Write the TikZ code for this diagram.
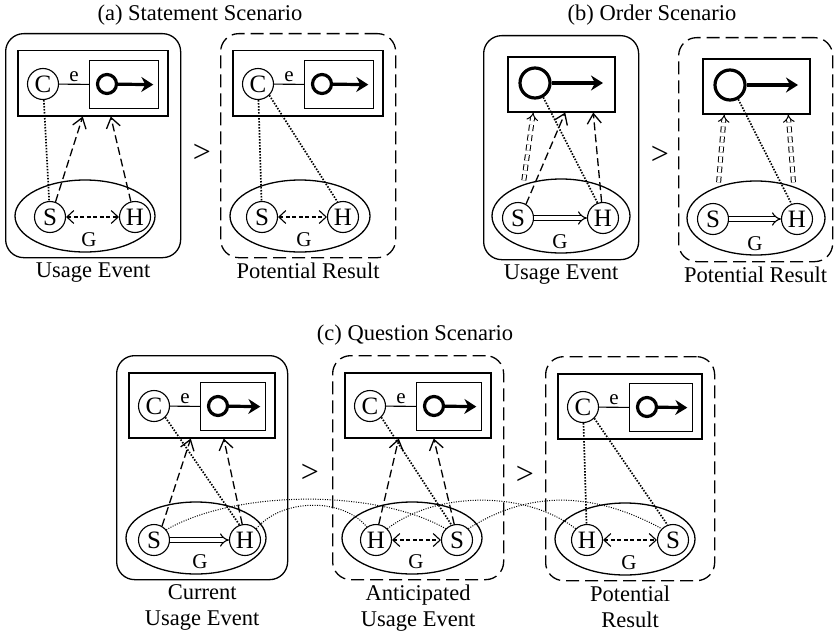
\documentclass[tikz,border=0pt]{standalone}
\usepackage{fontspec}
\setmainfont{Liberation Serif}
\usetikzlibrary{arrows.meta,positioning,shapes.geometric}
\tikzset{
  scene/.style={draw, line width=1.3pt, rounded corners=18pt, inner sep=0pt},
  anticip/.style={scene, dash pattern=on 13pt off 6pt},
  topbox/.style={draw, line width=1.5pt, inner sep=0pt},
  sitbox/.style={draw, line width=1.3pt, inner sep=0pt},
  entity/.style={draw, circle, line width=1.1pt, minimum size=31pt, inner sep=0pt,
                 font=\fontsize{25}{27}\selectfont},
  agent/.style={draw, circle, line width=3.2pt, minimum size=19pt, inner sep=0pt},
  heading/.style={line width=3.2pt, -{Stealth[length=12pt,width=15pt,inset=4pt]}},
  group/.style={draw, ellipse, line width=1.3pt, minimum width=140pt, minimum height=72pt, inner sep=0pt},
  lbl/.style={font=\fontsize{21}{23}\selectfont, inner sep=1pt},
  captxt/.style={font=\fontsize{22.5}{26}\selectfont, align=center, inner sep=1pt},
  gtsign/.style={font=\fontsize{32}{34}\selectfont, inner sep=0pt},
  expect/.style={line width=1.3pt, dash pattern=on 8pt off 4pt, -{Straight Barb[length=10pt,width=14pt]}},
  expecttwo/.style={double, double distance=3pt, line width=1pt, dash pattern=on 6pt off 4pt,
                    -{Implies[length=8pt]}},
  grounding/.style={line width=1.7pt, dash pattern=on 1.5pt off 1.5pt},
  link/.style={line width=1pt, dash pattern=on 1pt off 1.4pt},
  mutual/.style={line width=1.1pt, dash pattern=on 4pt off 2.5pt,
                 {Straight Barb[length=7pt,width=13pt]}-{Straight Barb[length=7pt,width=13pt]}},
  directive/.style={double, double distance=3.5pt, line width=1.1pt, -{Implies[length=8pt]}},
}
% panel with C, e and situation box
\newcommand{\cpanel}[4]{%
  \node[#2, minimum width=#3, minimum height=224, anchor=north west] (#1) at (0,0) {};
  \node[topbox, minimum width=#3-25, minimum height=65, anchor=north west] (#1top) at (12,17) {};
  \node[sitbox, minimum width=#3-106, minimum height=48, anchor=north west] (#1sit) at (84,27) {};
  \node[entity] (#1C) at (38,51) {C};
  \node[agent] (#1ag) at (102,51) {};
  \coordinate (#1tip) at ([xshift=-6pt]#1sit.east);
  \draw[heading] (#1ag) -- (#1tip);
  \draw[line width=1.1pt] (#1C) -- node[above=1pt, lbl] {e} (#1sit);
  \node[group] (#1G) at (80,183) {};
  \node[lbl] (#1g) at (84,207) {G};
  \node[captxt, below=3pt of #1] (#1cap) {#4};
}
% panel with the bare situation
\newcommand{\opanel}[4]{%
  \node[#2, minimum width=#3, minimum height=224, anchor=north west] (#1) at (0,0) {};
  \node[topbox, minimum width=107, minimum height=55, anchor=north west] (#1top) at (24,21) {};
  \node[agent, minimum size=30] (#1ag) at (52,48) {};
  \coordinate (#1tip) at (120,48);
  \draw[heading] (#1ag) -- (#1tip);
  \node[group, minimum width=138, minimum height=74] (#1G) at (78,181) {};
  \node[lbl] (#1g) at (77,207) {G};
  \node[captxt, below=3pt of #1] (#1cap) {#4};
}

\begin{document}
\begin{tikzpicture}[x=1pt,y=-1pt]
\useasboundingbox (0,0) rectangle (834,634);

% (a) statement
\node[captxt] (ttla) at (200,15) {(a) Statement Scenario};
\begin{scope}[shift={(5,33)}]
  \cpanel{a1}{scene}{175}{Usage Event}
  \node[entity] (a1S) at (45,184) {S};
  \node[entity] (a1H) at (130,184) {H};
\end{scope}
\node[gtsign] (gta) at (202,153) {>};
\begin{scope}[shift={(220,33)}]
  \cpanel{a2}{anticip}{175}{Potential Result}
  \node[entity] (a2S) at (42,184) {S};
  \node[entity] (a2H) at (123,184) {H};
\end{scope}

% (b) order
\node[captxt] (ttlb) at (652,15) {(b) Order Scenario};
\begin{scope}[shift={(483,35)}]
  \opanel{b1}{scene}{155}{Usage Event}
  \node[entity] (b1S) at (35,183) {S};
  \node[entity] (b1H) at (120,183) {H};
\end{scope}
\node[gtsign] (gtb) at (660,155) {>};
\begin{scope}[shift={(678,37)}]
  \opanel{b2}{anticip}{154}{Potential Result}
  \node[entity] (b2S) at (35,182) {S};
  \node[entity] (b2H) at (119,182) {H};
\end{scope}

% (c) question
\node[captxt] (ttlc) at (415,335) {(c) Question Scenario};
\begin{scope}[shift={(116,355)}]
  \cpanel{c1}{scene}{171}{Current\\Usage Event}
  \node[entity] (c1S) at (38,185) {S};
  \node[entity] (c1H) at (129,185) {H};
\end{scope}
\node[gtsign] (gtc) at (310,473) {>};
\begin{scope}[shift={(332,355)}]
  \cpanel{c2}{anticip}{171}{Anticipated\\Usage Event}
  \node[entity] (c2H) at (44,185) {H};
  \node[entity] (c2S) at (125,185) {S};
\end{scope}
\node[gtsign] (gtd) at (525,475) {>};
\begin{scope}[shift={(545,356)}]
  \cpanel{c3}{anticip}{169}{Potential\\Result}
  \node[entity] (c3H) at (42,184) {H};
  \node[entity] (c3S) at (128,184) {S};
\end{scope}

% connectors (a)
\draw[mutual] (a1S) -- (a1H);
\draw[grounding] (a1C) -- (a1S);
\draw[expect] (a1S.70) -- ([xshift=-10pt]a1top.south);
\draw[expect] (a1H.105) -- ([xshift=18pt]a1top.south);
\draw[mutual] (a2S) -- (a2H);
\draw[grounding] (a2C) -- (a2S);
\draw[grounding] (a2C.-45) -- (a2H.110);

% connectors (b)
\draw[directive] (b1S) -- (b1H);
\draw[expecttwo, shorten <=4pt] (b1G.140) -- ([xshift=-28pt]b1top.south);
\draw[expect] (b1S.60) -- ([xshift=4pt]b1top.south);
\draw[expect] (b1H.95) -- ([xshift=32pt]b1top.south);
\draw[grounding] (b1ag.-60) -- (b1H.110);
\draw[directive] (b2S) -- (b2H);
\draw[expecttwo, shorten <=4pt] (b2G.140) -- ([xshift=-32pt]b2top.south);
\draw[expecttwo, shorten <=4pt] (b2G.40) -- ([xshift=32pt]b2top.south);
\draw[grounding] (b2ag.-60) -- (b2H.110);

% connectors (c)
\draw[directive] (c1S) -- (c1H);
\draw[expect] (c1S.60) -- ([xshift=-11pt]c1top.south);
\draw[expect] (c1H.100) -- ([xshift=22pt]c1top.south);
\draw[grounding] (c1C.-45) -- (c1H.110);
\draw[mutual] (c2H) -- (c2S);
\draw[expect] (c2H.80) -- ([xshift=-19pt]c2top.south);
\draw[expect] (c2S.100) -- ([xshift=16pt]c2top.south);
\draw[grounding] (c2C.-45) -- (c2S.110);
\draw[mutual] (c3H) -- (c3S);
\draw[grounding] (c3C) -- (c3H);
\draw[grounding] (c3C.-45) -- (c3S.110);

% links between the events
\draw[link] (c1S.40) .. controls +(70,-40) and +(-70,-40) .. (c2S.135);
\draw[link] (c1H.45) .. controls +(25,-30) and +(-25,-30) .. (c2H.125);
\draw[link] (c2H.45) .. controls +(50,-38) and +(-50,-38) .. (c3H.135);
\draw[link] (c2S.45) .. controls +(60,-38) and +(-70,-38) .. (c3S.135);
\end{tikzpicture}
\end{document}
